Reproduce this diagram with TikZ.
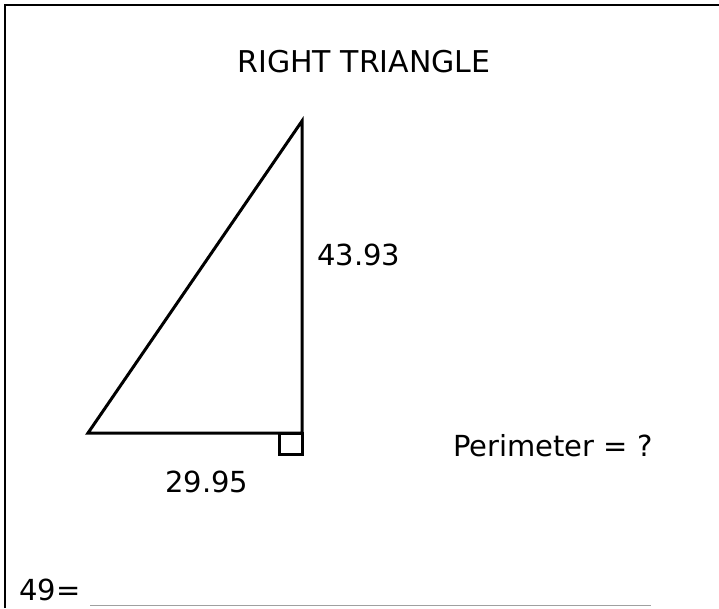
\documentclass[tikz,border=0pt]{standalone}
\usepackage{fontspec}
\setmainfont{DejaVu Sans}
\usepackage{tikz}
\usetikzlibrary{positioning, calc}
\definecolor{framedraw}{HTML}{000000}
\definecolor{blankdraw}{HTML}{A0A0A0}
\tikzset{
  lab/.style={font=\fontsize{29}{34}\selectfont, inner sep=0pt, anchor=base},
  side/.style={line width=3pt, draw=black, line join=miter},
  frm/.style={line width=2.5pt, draw=framedraw},
  blank/.style={line width=1pt, draw=blankdraw},
}
\begin{document}
\begin{tikzpicture}[x=1pt, y=-1pt]
  \useasboundingbox (0,0) rectangle (719,608);
  % frame
  \coordinate (fbl) at (5,608);
  \coordinate (ftl) at (5,5);
  \coordinate (ftr) at (719,5);
  \draw[frm] (fbl) -- (ftl) -- (ftr);
  % title
  \node[lab, font=\fontsize{30}{36}\selectfont] (title) at (364,72) {RIGHT TRIANGLE};
  % triangle
  \coordinate (A) at (88,433);
  \coordinate (B) at (302,433);
  \coordinate (C) at (302,121);
  \draw[side] (A) -- (B) -- (C) -- cycle;
  \draw[side] ($(B)+(-23,0)$) rectangle ($(B)+(0,21)$);
  % labels
  \node[lab, anchor=base west] (height) at (317,265) {43.93};
  \node[lab, anchor=base west] (base) at (165,492) {29.95};
  \node[lab, anchor=base west] (perim) at (453,456) {Perimeter = ?};
  \node[lab, anchor=base west] (ans) at (19,600) {49=};
  \coordinate (ul) at (90,605);
  \coordinate (ur) at (651,605);
  \draw[blank] (ul) -- (ur);
\end{tikzpicture}
\end{document}
